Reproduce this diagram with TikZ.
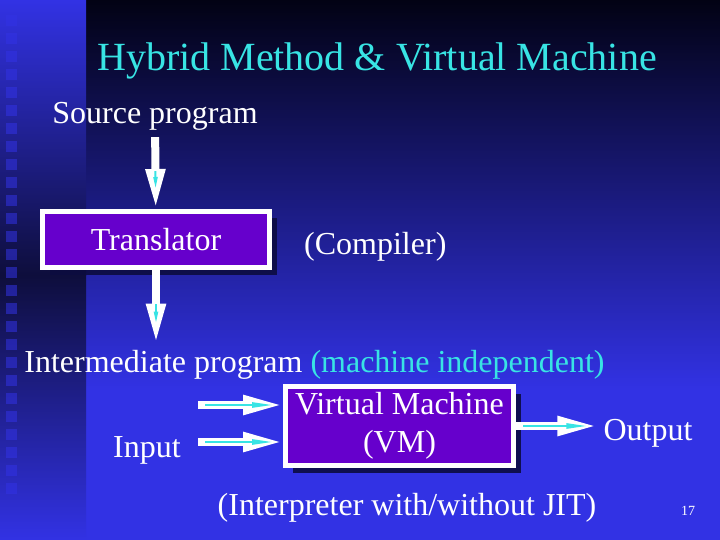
\documentclass[tikz,border=0pt]{standalone}
\usepackage{fontspec}
\setmainfont{Liberation Serif}
\usetikzlibrary{arrows.meta, positioning, shadows}
\definecolor{bgblue}{RGB}{50,50,228}
\definecolor{bgtop}{RGB}{2,2,20}
\definecolor{stripdark}{RGB}{14,14,60}
\definecolor{aqua}{RGB}{56,228,228}
\definecolor{boxpurple}{RGB}{102,0,204}
\definecolor{shadenavy}{RGB}{12,12,64}

\begin{document}
\begin{tikzpicture}[x=1pt, y=-1pt,
    every node/.style={font=\fontsize{32}{38}\selectfont, text=white, inner sep=6pt},
    box/.style={draw=white, line width=5pt, fill=boxpurple, align=center, inner sep=0pt,
      drop shadow={shadow xshift=7pt, shadow yshift=-7pt, fill=shadenavy, opacity=0.9}},
    tile/.style={fill=bgblue, fill opacity=0.55},
    pipe/.style={draw=white, line width=8pt, -{Triangle[length=40pt, width=18pt]}},
    glint/.style={draw=aqua, line width=2.5pt, -{Triangle[length=22pt, width=5pt]},
      shorten >=9pt, shorten <=7pt},
    spark/.style={draw=aqua, line width=2pt, -{Triangle[length=12pt, width=4pt]},
      shorten >=20pt, shorten <=34pt}]
    \useasboundingbox (0,0) rectangle (720,540);
    % background
    \shade[top color=bgtop, bottom color=bgblue] (86,0) rectangle (720,390);
    \fill[bgblue] (86,390) rectangle (720,540);
    \shade[top color=bgblue, bottom color=stripdark] (0,0) rectangle (86,275);
    \shade[top color=stripdark, bottom color=bgblue] (0,275) rectangle (86,540);
    \foreach \k in {0,...,26} \fill[tile] (6,{15+18*\k}) rectangle +(11,11);

    \node[font=\fontsize{40}{48}\selectfont, text=aqua, anchor=base] (head) at (377,71)
      {Hybrid Method \& Virtual Machine};
    \node[anchor=base] (src) at (155,124) {Source program};
    \node[box, minimum width=227, minimum height=56] (trans) at (156,239.5) {Translator};
    \node (comp) [right=26pt of trans, yshift=-7pt] {(Compiler)};
    \node[anchor=base] (mid) at (314.5,372)
      {Intermediate program \textcolor{aqua}{(machine independent)}};
    \node[box, minimum width=228, minimum height=79] (vm) at (399.5,426) {Virtual Machine\\(VM)};
    \node[anchor=base] (inp) at (147,457) {Input};
    \node[anchor=base] (out) at (648,440) {Output};
    \node[anchor=base] (jit) at (407,515) {(Interpreter with/without JIT)};
    \node[font=\fontsize{14}{16}\selectfont, anchor=base] (pg) at (688,515) {17};
    \coordinate (in1) at (198,405);
    \coordinate (in2) at (198,442);

    \draw[pipe] (src) -- (trans);  \draw[spark] (src) -- (trans);
    \draw[pipe] (trans) -- (trans |- mid.north);  \draw[spark] (trans) -- (trans |- mid.north);
    \draw[pipe] (in1) -- (in1 -| vm.west);  \draw[glint] (in1) -- (in1 -| vm.west);
    \draw[pipe] (in2) -- (in2 -| vm.west);  \draw[glint] (in2) -- (in2 -| vm.west);
    \draw[pipe] (vm) -- (vm -| out.west);   \draw[glint] (vm) -- (vm -| out.west);
  \end{tikzpicture}
\end{document}
